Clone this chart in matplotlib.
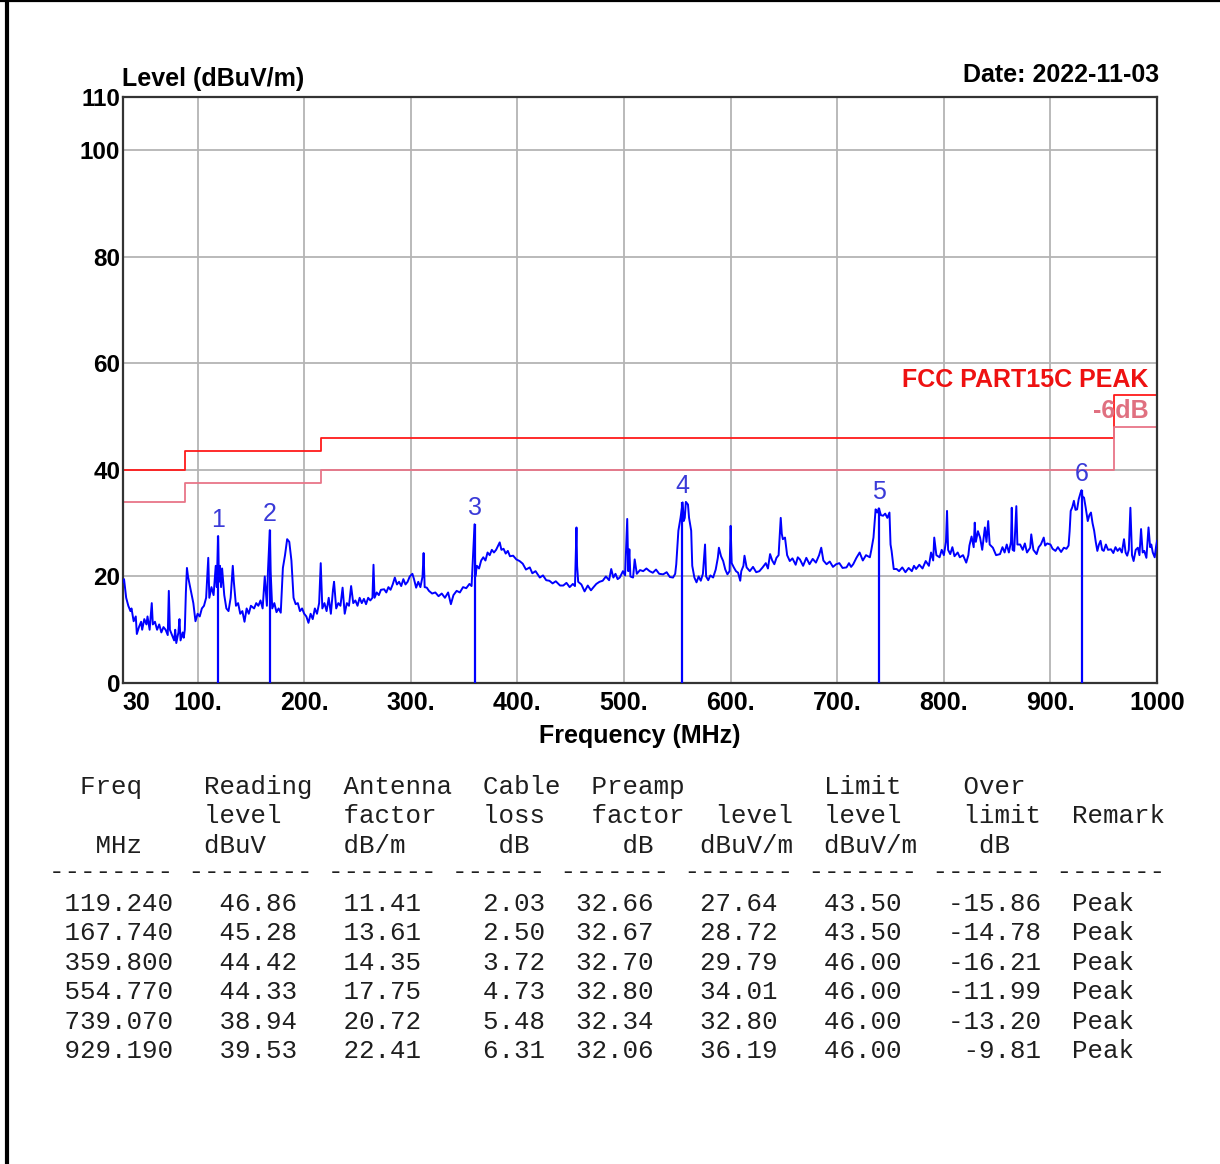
import matplotlib
matplotlib.use('Agg')
import matplotlib.pyplot as plt
from matplotlib.lines import Line2D

# peak markers / table values
marker_freq = [119.240, 167.740, 359.800, 554.770, 739.070, 929.190]
reading_level = [46.86, 45.28, 44.42, 44.33, 38.94, 39.53]
antenna_factor = [11.41, 13.61, 14.35, 17.75, 20.72, 22.41]
cable_loss = [2.03, 2.50, 3.72, 4.73, 5.48, 6.31]
preamp_factor = [32.66, 32.67, 32.70, 32.80, 32.34, 32.06]
marker_level = [27.64, 28.72, 29.79, 34.01, 32.80, 36.19]
limit_at_marker = [43.50, 43.50, 46.00, 46.00, 46.00, 46.00]
over_limit = [-15.86, -14.78, -16.21, -11.99, -13.20, -9.81]
remark = ['Peak'] * 6

# limit lines (step edges)
limit_freq = [30, 88, 216, 960, 1000]
limit_level = [40, 43.5, 46, 54, 54]
margin_level = [34, 37.5, 40, 48, 48]

trace_low = [
    (30, 19.0), (31, 19.5), (33, 16), (35, 14.5), (37, 13.5), (38, 14), (40, 11.6),
    (42, 12.5), (43, 9.2), (45, 10.5), (47, 11.5), (48, 10), (50, 12), (52, 11),
    (53, 12.5), (55, 10), (57, 15), (58, 11), (60, 11.5), (62, 10), (64, 11),
    (66, 9.5), (68, 10.5), (70, 10), (72, 9), (73, 17.3), (74, 10), (76, 9), (78, 8),
    (79, 10), (80, 7.5), (82, 9.5), (83, 12), (84, 8), (86, 9.5), (87, 8.5), (88, 10),
    (89, 17), (90, 21.6), (91, 20), (92, 19), (94, 17), (96, 15), (98, 11.6),
    (100, 13), (102, 12.5), (104, 14), (106, 14.5), (108, 16), (110, 23.5), (111, 16),
    (113, 18), (115, 16.5), (117, 22), (118, 18), (119.24, 27.6), (120, 19), (121, 22),
    (122, 18), (123, 21.5), (125, 16.5), (127, 14), (129, 13.5), (131, 16), (133, 22),
    (134, 19), (136, 14.5), (138, 15), (140, 13), (142, 13.5), (144, 11.5), (146, 14),
    (148, 13), (150, 14.5), (153, 14), (155, 15), (157, 14.5), (159, 15.5), (161, 14),
    (163, 20), (165, 14.5), (166, 21), (167.74, 28.7), (168.5, 21), (170, 14),
    (172, 15), (174, 13.3), (176, 14), (178, 13.2), (180, 21.6), (182, 24), (184, 27),
    (186, 26.5), (188, 23), (190, 16), (192, 14.8), (194, 15), (196, 13.5), (198, 14),
]
trace_mid = [
    (200, 13), (202, 12.5), (204, 11.3), (206, 13), (208, 12), (210, 14), (212, 13),
    (214, 15), (215.5, 22.5), (217, 14), (219, 15), (221, 13.5), (223, 16), (225, 13),
    (227, 17.5), (228, 19), (230, 14), (232, 15), (234, 14.5), (236, 17.9), (238, 13),
    (240, 15), (242, 14.5), (244, 18.2), (246, 15), (248, 15.5), (250, 14.5), (252, 16),
    (254, 15), (256, 15.8), (258, 14.8), (260, 16), (262, 15.5), (264, 16), (265, 22.2),
    (266, 16), (268, 17), (270, 16.5), (272, 17.5), (275, 17.6), (277, 17), (279, 18),
    (281, 17.5), (283, 18.5), (285, 19.8), (287, 18.5), (289, 19), (291, 18.2),
    (293, 19.5), (295, 18.5), (297, 19), (299, 20), (301.5, 20.5), (303, 19.5),
    (305, 17.9), (307, 19), (309, 18), (311, 20), (312, 24.4), (313, 18), (315, 17.9),
    (317, 17.3), (320, 16.8), (323, 17), (326, 16.3), (329, 16.8), (332, 16), (335, 17),
    (337.6, 14.8), (340, 16.5), (343, 17.3), (346, 17), (349, 18), (352, 17.8),
    (355, 18.6), (357, 18.2), (359.8, 29.8), (360.5, 20), (362, 22), (364, 21.5),
    (366, 23), (368, 23.6), (370, 23), (372, 24.5), (374, 24), (376, 25), (378, 24.5),
    (380, 25), (383.4, 26.4), (385, 25), (387, 25.2), (389, 24.3), (391, 24.8),
    (393, 23.8), (396, 23.9), (399, 23.2), (402, 22.9), (405, 22.4), (408, 21.3),
    (411.6, 21.7), (414, 20.6), (417, 21), (421, 19.8), (424, 20.2), (427, 19.3),
    (430, 19.2), (433, 18.7), (436, 19.1), (440, 18.3), (443, 18.3), (446, 18.8),
    (449, 18), (452, 18.6), (454, 18.2), (455.4, 29.2), (456, 22), (457, 19),
    (460, 18.5), (463, 17.2), (466, 18.3), (469, 17.4), (471, 17.9), (474, 18.6),
    (477, 19), (480, 19.2), (483, 20), (486, 19.3), (488, 21.4), (490, 19.8),
    (492, 20.5), (494, 19.5), (496, 19.8), (499, 21), (501, 20.2), (503, 30.8),
    (504, 21), (505, 25.1), (506, 20), (508.5, 19.8), (510, 23.2), (512, 20.5),
    (515, 21.2), (518, 21), (521, 21.5), (524, 21), (527, 20.7), (530, 21.3),
    (533, 20.5), (536.7, 20.4), (540, 20.8), (543, 19.9), (546, 19.8), (548, 20.5),
    (549, 22.3), (551, 28.6), (553, 31), (555, 33.9), (556, 30.4), (557, 31),
    (558, 34), (560, 33.5), (561, 31), (563, 28.6), (564, 22), (566, 19.8),
    (568, 18.9), (570, 20), (572, 19.2), (574, 20.5), (576, 26), (577, 20),
    (579, 19.3), (581, 20.2), (583.6, 19.8), (586, 21.3), (588, 23.5), (589, 25.4),
    (591, 23.8), (593, 22.9), (595, 21.3), (597, 20.4), (599, 21),
]
trace_high = [
    (600, 29.5), (601, 22.5), (603, 21.7), (605, 21), (607, 20.7), (609, 19.2),
    (610, 21), (612, 22), (613, 23.9), (615, 21.7), (618, 21), (621, 21.8),
    (624, 20.8), (627, 21), (630, 21.7), (633, 22.5), (635, 21.5), (637, 24.2),
    (639, 23), (641, 22.3), (643, 23.5), (645, 24), (646, 27.5), (647, 31), (648, 28),
    (649, 27), (651, 27.3), (653, 24), (655.5, 22.9), (658, 23.4), (661, 22.2),
    (663, 23.6), (665, 23.2), (668, 22), (671, 23.5), (674, 22.3), (677, 23.3),
    (680, 22.6), (683, 24), (685, 25.4), (687, 23), (690, 22.3), (693, 22.8),
    (696, 21.8), (699, 22.3), (702, 22.5), (705, 21.6), (708.7, 21.7), (711, 22.5),
    (713, 21.8), (715, 22.3), (718, 23.5), (721, 24.5), (724, 23), (727, 24),
    (730.6, 23.6), (732, 25), (734, 27.3), (736, 32.6), (737.5, 32), (739.07, 32.8),
    (741, 31.5), (743, 31.4), (745, 31.8), (747, 31), (749, 32), (750, 26),
    (751, 24.8), (753, 21.4), (755.7, 21.4), (758, 21), (761, 21.7), (764, 20.8),
    (767, 21.6), (770, 21), (772, 22), (774, 21.4), (777, 22.2), (780, 21.5),
    (783, 22.9), (786, 22), (788, 24.5), (790, 23), (791, 27.3), (793, 24),
    (796, 23.6), (798, 25), (800, 24), (802, 26.5), (803, 32.3), (804, 25),
    (806, 24.2), (808, 25.5), (810, 23.8), (813, 24.5), (815, 23.6), (818, 24),
    (821, 22.6), (823, 24), (824, 25.8), (826, 27.5), (828, 25.5), (829, 30.1),
    (830, 26.5), (832, 28.5), (834, 27.3), (836, 25), (838.5, 29.2), (840, 26.5),
    (841.6, 30.4), (843, 26), (846, 25.4), (849, 24), (852.7, 24.2), (855, 25.5),
    (857, 24.5), (859, 26), (861, 24.5), (863, 26.5), (863.7, 32.9), (864.5, 25),
    (866, 24.8), (868, 33.2), (869, 26), (871.6, 26), (874, 25), (876, 26.2),
    (878, 24.5), (881, 25.4), (882, 27.9), (884, 25), (887, 24.2), (889, 25.5),
    (891, 26), (893.7, 27.3), (895, 25.8), (897, 26.2), (900, 26), (902, 25.2),
    (904.7, 24.8), (907, 25.5), (910, 24.6), (912.6, 25.4), (915, 25.2), (917, 25.8),
    (918, 28.5), (919, 32.3), (920.5, 33), (922, 34.2), (923.5, 32.5), (925, 32.6),
    (926.5, 34.5), (928.4, 35.8), (929.19, 36.2), (930, 35), (931.5, 34.8), (933, 33),
    (935, 30.4), (936.5, 31.5), (938, 32), (939.5, 30), (941, 28.6), (942.5, 26.5),
    (944, 24.8), (945.5, 26), (947, 26.7), (948.5, 25), (950, 24.8), (952, 26),
    (954, 25), (956.8, 25.1), (959, 24.4), (961, 25.5), (963, 24.8), (965, 25.3),
    (967, 24.5), (969, 27), (970.5, 24.5), (972, 23.9), (973.5, 25), (975, 32.9),
    (976.5, 24), (978, 22.9), (980, 25), (982, 25.4), (983.5, 24), (985, 28.9),
    (986.5, 24.5), (988, 24.8), (990, 23.5), (992, 29.2), (993.5, 25.5), (994.6, 26),
    (996, 24.5), (997.8, 23.6), (999, 25.5), (1000, 26.7),
]

x_ticks = [30, 100, 200, 300, 400, 500, 600, 700, 800, 900, 1000]
x_tick_labels = ['30', '100.', '200.', '300.', '400.', '500.', '600.', '700.', '800.', '900.', '1000']
y_ticks = [0, 20, 40, 60, 80, 100, 110]

plt.rcParams['font.family'] = ['Liberation Sans', 'DejaVu Sans']

fig = plt.figure(figsize=(12.2, 11.64), dpi=100)
ax = fig.add_axes([0.1008, 0.4132, 0.8476, 0.5035])

trace = trace_low + trace_mid + trace_high
tf = [p[0] for p in trace]
tl = [p[1] for p in trace]

# grid lines
for x in x_ticks[1:-1]:
    ax.axvline(x, color='#b4b4b4', lw=1.3, zorder=0)
for y in y_ticks[1:-1]:
    ax.axhline(y, color='#b4b4b4', lw=1.3, zorder=0)

ax.plot(limit_freq, limit_level, drawstyle='steps-post', color='#ff1a1a', lw=1.3, zorder=2)
ax.plot(limit_freq, margin_level, drawstyle='steps-post', color='#e87588', lw=1.3, zorder=2)

ax.plot(tf, tl, color='#0000ff', lw=1.4, zorder=3)

ax.vlines(marker_freq, 0, marker_level, color='#0000ff', lw=1.6, zorder=4)
for i, (f, lv) in enumerate(zip(marker_freq, marker_level)):
    ax.text(f, lv + 0.8, str(i + 1), ha='center', va='bottom', fontsize=18,
            color='#3a3ad8', zorder=5)

ax.text(992, 56.8, 'FCC PART15C PEAK', ha='right', va='center', fontsize=18,
        fontweight='bold', color='#ee1111')
ax.text(992, 51.0, '-6dB', ha='right', va='center', fontsize=18,
        fontweight='bold', color='#e07080')

ax.set_xlim(30, 1000)
ax.set_ylim(0, 110)
ax.set_xticks(x_ticks)
ax.set_xticklabels(x_tick_labels, fontsize=18, fontweight='bold')
ax.set_yticks(y_ticks)
ax.set_yticklabels([str(v) for v in y_ticks], fontsize=17.5, fontweight='bold')
ax.get_xticklabels()[0].set_ha('left')
ax.tick_params(axis='both', length=0)
ax.tick_params(axis='x', pad=6)
ax.tick_params(axis='y', pad=2)
for s in ax.spines.values():
    s.set_color('#333333')
    s.set_linewidth(1.6)

ax.set_xlabel('Frequency (MHz)', fontsize=18, fontweight='bold', labelpad=6)
ax.text(-0.001, 1.01, 'Level (dBuV/m)', transform=ax.transAxes, ha='left', va='bottom',
        fontsize=18, fontweight='bold')
ax.text(1.002, 1.017, 'Date: 2022-11-03', transform=ax.transAxes, ha='right', va='bottom',
        fontsize=18, fontweight='bold')

# table under the plot
header1 = '  Freq    Reading  Antenna  Cable  Preamp         Limit    Over'
header2 = '          level    factor   loss   factor  level  level    limit  Remark'
header3 = '   MHz    dBuV     dB/m      dB      dB   dBuV/m  dBuV/m    dB'
dashes = '-------- -------- ------- ------ ------- ------- ------- ------- -------'

rows = []
for i in range(len(marker_freq)):
    rows.append(' %7.3f   %5.2f   %5.2f    %4.2f  %5.2f   %5.2f   %5.2f   %6.2f  %s' % (
        marker_freq[i], reading_level[i], antenna_factor[i], cable_loss[i],
        preamp_factor[i], marker_level[i], limit_at_marker[i], over_limit[i], remark[i]))

lines = [header1, header2, header3, dashes] + rows
line_y = [787, 816, 846, 872, 904, 933, 963, 992, 1022, 1051]
for txt, py in zip(lines, line_y):
    fig.text(49 / 1220, 1 - py / 1164, txt, ha='left', va='center', fontsize=18.6,
             family='Liberation Mono', color='#1e1e1e')

# page frame
fig.add_artist(Line2D([0.0057, 0.0057], [0, 1], lw=3, color='black', transform=fig.transFigure))
fig.add_artist(Line2D([0, 1], [0.9995, 0.9995], lw=1.6, color='black', transform=fig.transFigure))

fig.savefig('out.png', dpi=100)
